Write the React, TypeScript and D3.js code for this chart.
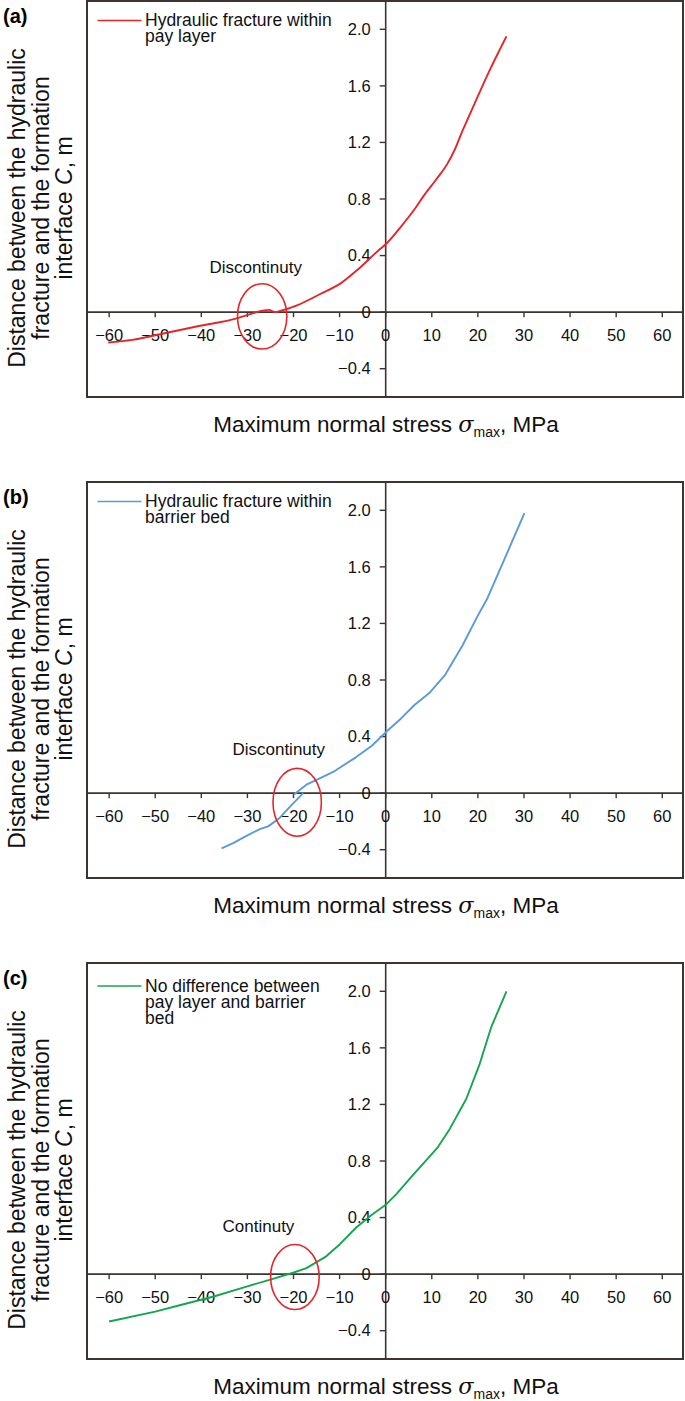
import React from 'react';
import * as d3 from 'd3';

// ---- data ----
const xTicks = [-60, -50, -40, -30, -20, -10, 0, 10, 20, 30, 40, 50, 60];
const xTickLabels = ['−60', '−50', '−40', '−30', '−20', '−10', '0', '10', '20', '30', '40', '50', '60'];
const yTicks = [-0.4, 0, 0.4, 0.8, 1.2, 1.6, 2.0];
const yTickLabels = ['−0.4', '0', '0.4', '0.8', '1.2', '1.6', '2.0'];

// (a) hydraulic fracture within pay layer
const payLayerX = [-60.2, -55, -48, -40.8, -32.1, -29.2, -26.7, -25.3, -24, -22.7, -19.1, -14.1, -9.7, -6.1, -1.1, 0, 3.2, 6.1, 8.2, 11, 13.4, 15, 16.5, 18, 19.5, 21, 22.7, 24.5, 26.2];
const payLayerY = [-0.215, -0.196, -0.149, -0.1, -0.042, -0.012, 0.011, 0.016, 0.0, 0.01, 0.05, 0.13, 0.205, 0.3, 0.45, 0.48, 0.6, 0.72, 0.82, 0.94, 1.05, 1.15, 1.27, 1.38, 1.49, 1.6, 1.72, 1.84, 1.95];

// (b) hydraulic fracture within barrier bed, two pieces around the discontinuity
const barrierLowX = [-35.6, -33.1, -30.2, -27.3, -25.5, -23, -20.8, -17.9];
const barrierLowY = [-0.39, -0.353, -0.302, -0.254, -0.235, -0.175, -0.097, 0.0];
const barrierHighX = [-19.9, -17.2, -15, -11.4, -6.4, -3, 0, 3.4, 6.3, 9.6, 12.9, 16.6, 19.9, 22.1, 24.3, 26.5, 30.1];
const barrierHighY = [-0.01, 0.06, 0.094, 0.15, 0.255, 0.335, 0.43, 0.53, 0.625, 0.712, 0.837, 1.04, 1.25, 1.38, 1.545, 1.71, 1.98];

// (c) no difference between pay layer and barrier bed
const noDiffX = [-60, -50, -44.7, -37.5, -30.2, -25.2, -20.1, -17.2, -12.9, -10, -6.4, -3, 0, 2.3, 5.9, 11.3, 13.9, 17.5, 20.4, 22.9, 26.2];
const noDiffY = [-0.335, -0.265, -0.22, -0.16, -0.088, -0.04, 0.01, 0.043, 0.126, 0.21, 0.33, 0.42, 0.49, 0.566, 0.7, 0.897, 1.027, 1.24, 1.487, 1.747, 2.0];

const panelTags = ['(a)', '(b)', '(c)'];
const legendTexts = [
  ['Hydraulic fracture within', 'pay layer'],
  ['Hydraulic fracture within', 'barrier bed'],
  ['No difference between', 'pay layer and barrier', 'bed'],
];
const noteTexts = ['Discontinuty', 'Discontinuty', 'Continuty'];
// annotation anchors in data units: [x, y]
const notePos = [[-28.2, 0.28], [-23.2, 0.27], [-27.6, 0.3]];
// ellipse: [cx, cy, rx, ry] in data units
const ellipses = [[-26.8, -0.03, 5.35, 0.231], [-19.2, -0.065, 5.25, 0.24], [-19.7, -0.02, 5.27, 0.23]];

const zip = (xs: number[], ys: number[]) => xs.map((x, i) => [x, ys[i]] as [number, number]);

const seriesByPanel: [number, number][][][] = [
  [zip(payLayerX, payLayerY)],
  [zip(barrierLowX, barrierLowY), zip(barrierHighX, barrierHighY)],
  [zip(noDiffX, noDiffY)],
];
const colors = ['#e4262c', '#5b9bd5', '#14a64f'];

// ---- layout ----
const W = 685;
const H = 1401;
const panelTops = [1, 482, 963];
const legendShift = [0, 0, 3.5];
const boxH = 396;
const boxLeft = 87;
const boxRight = 683;
const ink = '#3d3431';
const font = '"Liberation Sans", Arial, Helvetica, sans-serif';

const x = d3.scaleLinear().domain([-64.8, 64.5]).range([boxLeft, boxRight]);

const Panel: React.FC<{ i: number }> = ({ i }) => {
  const top = panelTops[i];
  const y = d3.scaleLinear().domain([-0.6, 2.2]).range([top + boxH, top]);
  const line = d3
    .line<[number, number]>()
    .x(d => x(d[0]))
    .y(d => y(d[1]))
    .curve(i === 0 ? d3.curveMonotoneX : d3.curveLinear);
  const x0 = x(0);
  const y0 = y(0);
  const [ecx, ecy, erx, ery] = ellipses[i];
  const lg = top + legendShift[i];
  const titleCy = top + 207;

  return (
    <g>
      {/* panel tag */}
      <text x={3} y={top + 22} fontSize={20} fontWeight="bold" fontFamily={font}>{panelTags[i]}</text>

      {/* y title */}
      <g transform={`translate(0,${titleCy}) rotate(-90)`} fontFamily={font} fontSize={23} textAnchor="middle" fill="#111">
        <text x={0} y={25}>Distance between the hydraulic</text>
        <text x={0} y={48.5}>fracture and the formation</text>
        <text x={0} y={72}>
          interface <tspan fontStyle="italic">C</tspan>, m
        </text>
      </g>

      {/* frame */}
      <rect x={boxLeft} y={top} width={boxRight - boxLeft} height={boxH} fill="none" stroke={ink} strokeWidth={2} />

      {/* zero axes */}
      <line x1={boxLeft} x2={boxRight} y1={y0} y2={y0} stroke={ink} strokeWidth={1.6} />
      <line x1={x0} x2={x0} y1={top} y2={top + boxH} stroke={ink} strokeWidth={1.6} />

      {/* x ticks */}
      {xTicks.map((t, k) => (
        <g key={t}>
          <line x1={x(t)} x2={x(t)} y1={y0} y2={y0 + 5} stroke={ink} strokeWidth={1.4} />
          <text x={x(t)} y={y0 + 29} textAnchor="middle" fontSize={16.5} fontFamily={font} fill="#111">
            {xTickLabels[k]}
          </text>
        </g>
      ))}

      {/* y ticks */}
      {yTicks.map((t, k) => (
        <g key={t}>
          <line x1={x0 - 6} x2={x0} y1={y(t)} y2={y(t)} stroke={ink} strokeWidth={1.4} />
          <text x={x0 - 15} y={y(t)} dy="0.35em" textAnchor="end" fontSize={16.5} fontFamily={font} fill="#111">
            {yTickLabels[k]}
          </text>
        </g>
      ))}

      {/* series */}
      {seriesByPanel[i].map((pts, k) => (
        <path key={k} d={line(pts) || ''} fill="none" stroke={colors[i]} strokeWidth={1.9} strokeLinejoin="round" />
      ))}

      {/* annotation */}
      <ellipse
        cx={x(ecx)}
        cy={y(ecy)}
        rx={x(ecx + erx) - x(ecx)}
        ry={y(ecy - ery) - y(ecy)}
        fill="none"
        stroke="#e4262c"
        strokeWidth={1.6}
      />
      <text x={x(notePos[i][0])} y={y(notePos[i][1])} textAnchor="middle" fontSize={17} fontFamily={font} fill="#111">
        {noteTexts[i]}
      </text>

      {/* legend */}
      <line x1={97.5} x2={141.5} y1={lg + 19.5} y2={lg + 19.5} stroke={colors[i]} strokeWidth={1.6} />
      {legendTexts[i].map((s, k) => (
        <text key={k} x={145} y={lg + 25 + k * 16.3} fontSize={17.5} fontFamily={font} fill="#111">
          {s}
        </text>
      ))}

      {/* x title */}
      <text x={386} y={top + boxH + 35} textAnchor="middle" fontSize={22.5} fontFamily={font} fill="#111">
        Maximum normal stress <tspan fontStyle="italic" fontFamily='"DejaVu Serif", "Liberation Serif", serif'>σ</tspan>
        <tspan fontSize={14} dy={5}>max</tspan>
        <tspan dy={-5}>, MPa</tspan>
      </text>
    </g>
  );
};

export default function App() {
  return (
    <svg
      width={W}
      height={H}
      viewBox={`0 0 ${W} ${H}`}
      style={{ position: 'absolute', left: 0, top: 0, background: '#fff' }}
    >
      <rect x={0} y={0} width={W} height={H} fill="#fff" />
      {[0, 1, 2].map(i => (
        <Panel key={i} i={i} />
      ))}
    </svg>
  );
}
